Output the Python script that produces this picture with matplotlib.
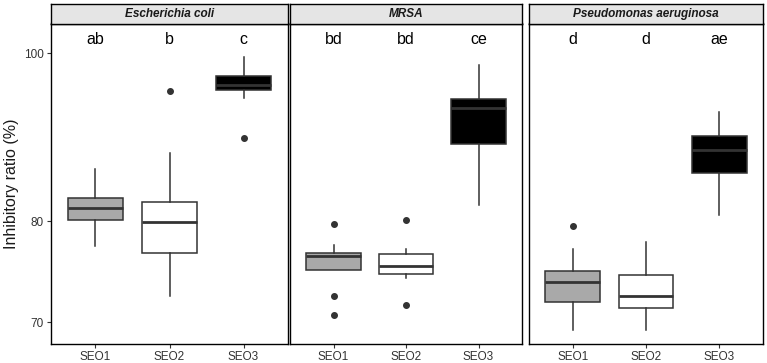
import matplotlib
matplotlib.use("Agg")
import matplotlib.pyplot as plt
from matplotlib.ticker import FixedLocator, NullLocator

plt.rcParams['font.family'] = ['Liberation Sans', 'DejaVu Sans']

# === Data ===
panels = ["Escherichia coli", "MRSA", "Pseudomonas aeruginosa"]
groups = ["SEO1", "SEO2", "SEO3"]

# per panel: SEO1, SEO2, SEO3
whislo = [[77.4, 72.5, 94.2], [75.0, 74.2, 81.8], [69.3, 69.3, 80.7]]
q1     = [[80.1, 76.7, 95.2], [75.0, 74.6, 88.7], [71.9, 71.3, 85.3]]
med    = [[81.4, 79.9, 95.9], [76.4, 75.4, 93.0], [73.8, 72.5, 87.9]]
q3     = [[82.5, 82.1, 97.0], [76.7, 76.6, 94.1], [74.9, 74.5, 89.6]]
whishi = [[85.7, 87.6, 99.5], [77.5, 77.1, 98.4], [77.1, 77.8, 92.5]]
fliers = [[[], [95.1], [89.3]],
          [[79.7, 72.5, 70.7], [80.1, 71.6], []],
          [[79.5], [], []]]
letters = [["ab", "b", "c"], ["bd", "bd", "ce"], ["d", "d", "ae"]]

fills = ["#A9A9A9", "#FFFFFF", "#000000"]
edge = "#333333"

W, H = 767, 363
fig = plt.figure(figsize=(W / 100, H / 100), dpi=100)

# panel pixel extents (left, right)
xpix = [(51, 288), (290, 522), (529, 763)]
top, strip_top, bottom = 23.5, 4, 344

for p in range(3):
    x0, x1 = xpix[p]
    ax = fig.add_axes([x0 / W, 1 - bottom / H, (x1 - x0) / W, (bottom - top) / H])
    stats = []
    for g in range(3):
        stats.append(dict(whislo=whislo[p][g], q1=q1[p][g], med=med[p][g],
                          q3=q3[p][g], whishi=whishi[p][g], fliers=fliers[p][g]))
    bp = ax.bxp(stats, positions=[1, 2, 3], widths=0.75, patch_artist=True,
                showcaps=False,
                boxprops=dict(edgecolor=edge, linewidth=1.1),
                whiskerprops=dict(color=edge, linewidth=1.1),
                medianprops=dict(color=edge, linewidth=2.0),
                flierprops=dict(marker="o", markerfacecolor=edge, markeredgecolor=edge,
                                markersize=4, linestyle="none"))
    for patch, c in zip(bp["boxes"], fills):
        patch.set_facecolor(c)
    for g in range(3):
        ax.text(g + 1, 101.8, letters[p][g], ha="center", va="center", fontsize=11.5)

    ax.set_yscale("log")
    ax.set_ylim(68, 104)
    ax.set_xlim(0.4, 3.6)
    ax.set_xticks([1, 2, 3])
    ax.set_xticklabels(groups, fontsize=8.5, color="#333333")
    ax.yaxis.set_minor_locator(NullLocator())
    if p == 0:
        ax.yaxis.set_major_locator(FixedLocator([70, 80, 100]))
        ax.set_yticklabels(["70", "80", "100"], fontsize=8.5, color="#333333")
        ax.set_ylabel("Inhibitory ratio (%)", fontsize=11.5, color="#1a1a1a", labelpad=4)
    else:
        ax.yaxis.set_major_locator(NullLocator())
        ax.tick_params(axis="y", left=False, labelleft=False)
    ax.tick_params(axis="both", length=3, width=0.8, color="#333333", pad=2)
    for s in ax.spines.values():
        s.set_linewidth(1.0)
        s.set_color("black")

    sax = fig.add_axes([x0 / W, 1 - top / H, (x1 - x0) / W, (top - strip_top) / H])
    sax.set_facecolor("#E5E5E5")
    sax.set_xticks([])
    sax.set_yticks([])
    for s in sax.spines.values():
        s.set_linewidth(1.0)
        s.set_color("black")
    sax.text(0.5, 0.48, panels[p], ha="center", va="center", fontsize=8.5,
             style="italic", weight="bold", color="#1a1a1a", transform=sax.transAxes)

fig.savefig("out.png", dpi=100)
